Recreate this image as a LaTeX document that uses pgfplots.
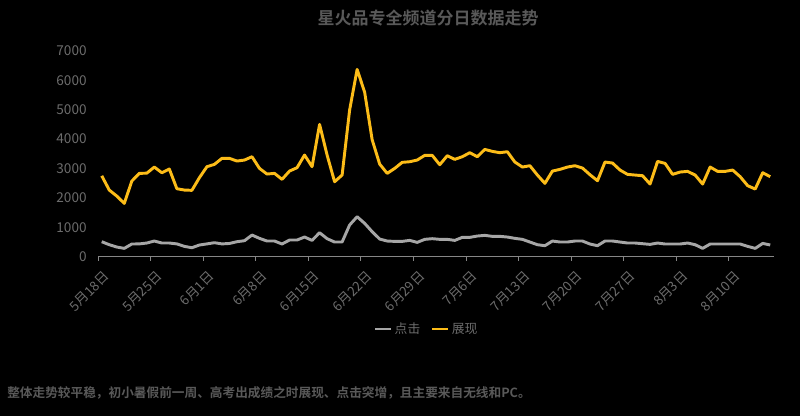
\documentclass[border=0pt]{standalone}
\usepackage{fontspec}
\setmainfont{Noto Sans CJK SC}[BoldFont={Noto Sans CJK SC Bold}]
\usepackage{pgfplots}
\usepackage{pgfplotstable}
\pgfplotsset{compat=1.18}
\definecolor{yel}{RGB}{252,188,24}
\definecolor{gry}{RGB}{166,166,166}
\definecolor{txt}{RGB}{108,108,108}
\definecolor{ttl}{RGB}{89,89,89}
\definecolor{axl}{RGB}{134,134,134}

\pgfplotstableread{
x zx dj
0 2750 505
1 2265 403
2 2060 323
3 1810 278
4 2571 426
5 2833 430
6 2840 460
7 3048 528
8 2855 460
9 2980 460
10 2310 430
11 2265 346
12 2255 300
13 2685 392
14 3060 430
15 3140 471
16 3344 430
17 3344 445
18 3253 505
19 3287 539
20 3400 732
21 3003 619
22 2810 528
23 2833 528
24 2628 426
25 2912 562
26 3026 562
27 3457 664
28 3060 550
29 4502 812
30 3457 608
31 2548 494
32 2776 494
33 4990 1073
34 6375 1357
35 5600 1130
36 3980 846
37 3150 596
38 2833 528
39 3003 516
40 3208 516
41 3230 550
42 3287 482
43 3446 585
44 3446 608
45 3128 585
46 3435 585
47 3310 550
48 3400 653
49 3537 653
50 3400 698
51 3650 721
52 3582 687
53 3537 687
54 3571 664
55 3219 619
56 3048 585
57 3094 494
58 2776 403
59 2492 369
60 2912 528
61 2969 494
62 3048 494
63 3094 528
64 3014 528
65 2787 426
66 2583 369
67 3219 528
68 3185 528
69 2946 494
70 2799 460
71 2776 460
72 2753 437
73 2469 414
74 3241 460
75 3173 426
76 2799 426
77 2878 426
78 2901 460
79 2776 403
80 2469 278
81 3048 426
82 2901 426
83 2901 426
84 2946 426
85 2719 426
86 2412 346
87 2299 278
88 2855 448
89 2719 392
}\datatab

\begin{document}
\begin{tikzpicture}
\fill[black] (0,0) rectangle (600pt,312pt);
\path[use as bounding box] (0,0) rectangle (600pt,312pt);
\begin{axis}[
  at={(73.5pt,119.6pt)}, anchor=south west,
  scale only axis, width=507pt, height=154.1pt,
  xmin=-0.5, xmax=89.5, ymin=0, ymax=7000,
  axis x line*=bottom, axis y line*=left,
  y axis line style={draw=none},
  x axis line style={-, draw=axl, line width=0.9pt},
  xtick={-0.5,6.5,...,83.5},
  xticklabels={5月18日,5月25日,6月1日,6月8日,6月15日,6月22日,6月29日,7月6日,7月13日,7月20日,7月27日,8月3日,8月10日},
  xtick style={draw=axl, line width=0.7pt},
  tick align=outside, major tick length=3pt,
  ytick={0,1000,...,7000}, ytick style={draw=none},
  /pgf/number format/assume math mode=true,
  /pgf/number format/1000 sep={},
  yticklabel style={font=\fontsize{10.2}{12}\selectfont, text=txt, xshift=-2pt},
  xticklabel style={xshift=3.5pt, yshift=-5.5pt, font=\fontsize{10}{12}\selectfont, text=txt, rotate=45, anchor=north east, inner sep=1pt},
  legend style={at={(0.4867,-0.3527)}, anchor=center, draw=none, fill=none,
    text=txt, font=\fontsize{9.6}{11}\selectfont,
    /tikz/every even column/.append style={column sep=6pt}},
  legend columns=2,
  legend image code/.code={\draw[#1, line width=2.2pt] (0pt,0pt) -- (11.5pt,0pt);},
]
\addplot[gry, line width=2.2pt, line join=round] table[x=x, y=dj] {\datatab};
\addlegendentry{点击}
\addplot[yel, line width=2.2pt, line join=round] table[x=x, y=zx] {\datatab};
\addlegendentry{展现}
\end{axis}
\node[font=\bfseries\fontsize{12.75}{14}\selectfont, text=ttl] at (321pt,298.5pt) {星火品专全频道分日数据走势};
\node[anchor=west, font=\bfseries\fontsize{9.5}{11}\selectfont, text=ttl, inner sep=0pt] at (5.25pt,17.25pt) {整体走势较平稳，初小暑假前一周、高考出成绩之时展现、点击突增，且主要来自无线和PC。};
\end{tikzpicture}
\end{document}
